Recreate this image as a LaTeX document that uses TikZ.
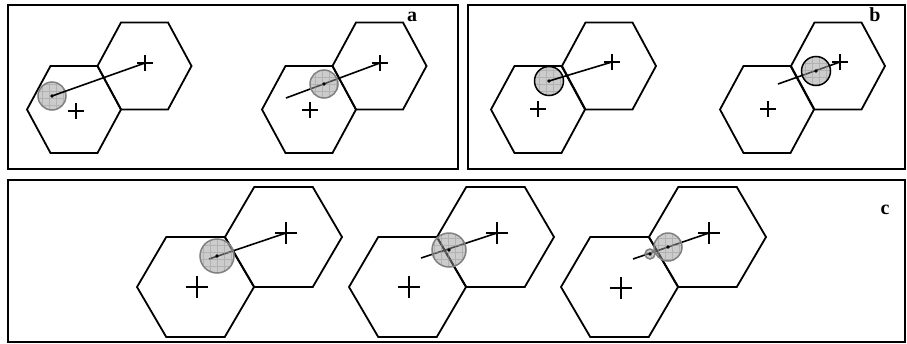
\documentclass[tikz,border=0pt]{standalone}
\usepackage{fontspec}
\setmainfont{Liberation Serif}
\tikzset{
  frame/.style={draw=black, line width=2pt},
  hexline/.style={draw=black, line width=1.8pt, line join=miter},
  pathline/.style={draw=black, line width=1.6pt},
  tgtline/.style={draw=black, line width=1.4pt},
  blobfill/.style={fill=black!40, fill opacity=0.5},
  gridline/.style={draw=black!40, line width=0.4pt, opacity=0.5},
  softedge/.style={draw=black!50, line width=1.5pt},
  hardedge/.style={draw=black, line width=1.5pt},
  lbl/.style={font=\fontsize{20}{20}\selectfont\bfseries, inner sep=0pt}
}
% flat-topped cell: centre (#1,#2), half-width #3, half-height #4
\newcommand{\hexcell}[4]{%
  \draw[hexline] (#1+#3,#2) -- (#1+#3/2,#2+#4) -- (#1-#3/2,#2+#4) -- (#1-#3,#2)
    -- (#1-#3/2,#2-#4) -- (#1+#3/2,#2-#4) -- cycle;}
% target mark: name, centre, arm length
\newcommand{\tgtmark}[4]{%
  \coordinate (#1) at (#2,#3);
  \draw[tgtline] (#2-#4,#3) -- (#2+#4,#3) (#2,#3-#4) -- (#2,#3+#4);}
% shaded disc with grid and centre dot: [edge style] name, centre, radius
\newcommand{\blob}[5][softedge]{%
  \coordinate (#2) at (#3,#4);
  \fill[blobfill] (#2) circle[radius=#5pt];
  \begin{scope}
    \clip (#2) circle[radius=#5pt];
    \draw[gridline, step=7pt] (#3-28,#4-28) grid (#3+28,#4+28);
  \end{scope}
  \draw[#1] (#2) circle[radius=#5pt];
  \fill[black] (#2) circle[radius=1.8pt];}
\begin{document}
\begin{tikzpicture}[x=1pt, y=-1pt]
  \useasboundingbox (0,0) rectangle (907,343);
  % panel frames
  \draw[frame] (8,5) rectangle (458,169);
  \draw[frame] (468,5) rectangle (905,169);
  \draw[frame] (8,180) rectangle (905,342);

  % ---- panel a ----
  \hexcell{74}{109.5}{47}{43.5}
  \hexcell{144.5}{66}{47}{43.5}
  \tgtmark{aL1}{76}{111}{8}
  \tgtmark{aL2}{145}{63}{8}
  \hexcell{309}{109.5}{47}{43.5}
  \hexcell{379.5}{66}{47}{43.5}
  \tgtmark{aR1}{310}{110}{8}
  \tgtmark{aR2}{380}{63}{8}
  \coordinate (aRs) at (286,98);
  \blob{aLb}{52}{96}{14}
  \draw[pathline] (aLb) -- (aL2);
  \draw[pathline] (aRs) -- (aR2);
  \blob{aRb}{324}{84}{14}
  \node[lbl] (la) at (412,17) {a};

  % ---- panel b ----
  \hexcell{538}{109.5}{47}{43.5}
  \hexcell{609}{66}{47}{43.5}
  \tgtmark{bL1}{538}{109}{8}
  \tgtmark{bL2}{612}{62}{8}
  \hexcell{767}{109.5}{47}{43.5}
  \hexcell{838}{66}{47}{43.5}
  \tgtmark{bR1}{768}{109}{8}
  \tgtmark{bR2}{840}{62}{8}
  \coordinate (bRs) at (778,84);
  \blob[hardedge]{bLb}{549}{81}{14.5}
  \draw[pathline] (bLb) -- (bL2);
  \draw[pathline] (bRs) -- (bR2);
  \blob[hardedge]{bRb}{816}{71}{14.5}
  \node[lbl] (lb) at (875,15) {b};

  % ---- panel c ----
  \hexcell{195.5}{287}{58.5}{50}
  \hexcell{283.5}{237}{58.5}{50}
  \tgtmark{c11}{197}{287}{11}
  \tgtmark{c12}{286}{233}{11}
  \coordinate (c1s) at (209,259);
  \draw[pathline] (c1s) -- (c12);
  \blob{c1b}{217}{256}{17}

  \hexcell{407.5}{287}{58.5}{50}
  \hexcell{495.5}{237}{58.5}{50}
  \tgtmark{c21}{409}{287}{11}
  \tgtmark{c22}{497}{233}{11}
  \coordinate (c2s) at (421,258);
  \draw[pathline] (c2s) -- (c22);
  \blob{c2b}{449}{250}{17}

  \hexcell{619.5}{287}{58.5}{50}
  \hexcell{707.5}{237}{58.5}{50}
  \tgtmark{c31}{621}{288}{11}
  \tgtmark{c32}{709}{233}{11}
  \coordinate (c3s) at (633,259);
  \draw[pathline] (c3s) -- (c32);
  \blob{c3b}{668}{247}{14}
  \blob{c3a}{650}{254}{5}
  \node[lbl] (lc) at (885,210) {c};
\end{tikzpicture}
\end{document}
